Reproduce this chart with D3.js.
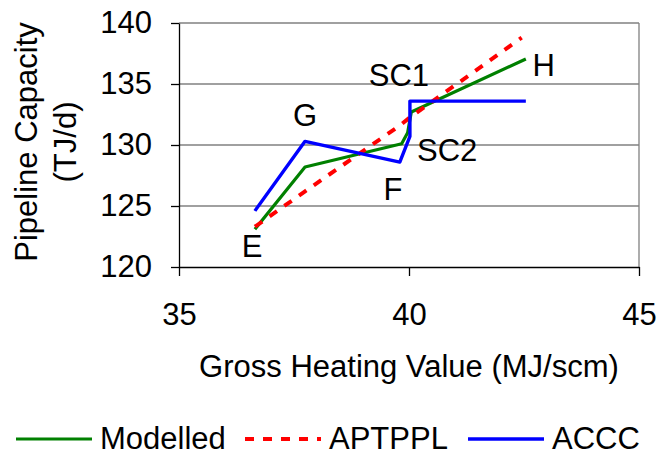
<!DOCTYPE html>
<html lang="en">
  <head>
    <meta charset="UTF-8" />
    <title>Pipeline capacity</title>
    <style>
      body { margin: 0; background: #fff; }
      text { font-family: "Liberation Sans", Arial, sans-serif; font-size: 31px; fill: #000; }
    </style>
  </head>
  <body>
    <div id="chart"></div>
    <script src="https://d3js.org/d3.v7.min.js"></script>
    <script>
      // values: [gross heating value, capacity]
      var modelled = [[36.65, 123.1], [37.74, 128.2], [39.84, 130.1], [39.97, 131.0], [40.05, 132.7], [42.54, 137.05]];
      var aptppl = [[36.65, 123.3], [37.74, 126.2], [39.8, 131.6], [40.0, 132.2], [42.45, 138.8]];
      var accc = [[36.65, 124.6], [37.74, 130.3], [39.8, 128.6], [40.02, 130.7], [40.02, 133.6], [42.54, 133.6]];

      var pointLabels = ["E", "G", "SC1", "SC2", "F", "H"];
      var labelPos = [[36.59, 120.84], [37.74, 131.58], [39.78, 134.86], [40.83, 128.71], [39.65, 125.52], [42.93, 135.68]];

      var xTicks = [35, 40, 45];
      var yTicks = [120, 125, 130, 135, 140];
      var seriesNames = ["Modelled", "APTPPL", "ACCC"];

      var margin = { top: 23, right: 22, bottom: 188, left: 179 },
        width = 661 - margin.left - margin.right,
        height = 455 - margin.top - margin.bottom;

      var root = d3.select("#chart").append("svg")
        .attr("width", 661)
        .attr("height", 455);
      var svg = root.append("g")
        .attr("transform", "translate(" + margin.left + "," + margin.top + ")");

      var x = d3.scaleLinear().domain([35, 45]).range([0, width]);
      var y = d3.scaleLinear().domain([120, 140]).range([height, 0]);

      // gridlines + top/right border
      svg.selectAll(".grid")
        .data(yTicks.slice(1))
        .enter().append("line")
        .attr("x1", 0).attr("x2", width)
        .attr("y1", d => y(d)).attr("y2", d => y(d))
        .attr("stroke", "#808080").attr("stroke-width", 1.3);
      svg.append("line")
        .attr("x1", width).attr("x2", width)
        .attr("y1", 0).attr("y2", height)
        .attr("stroke", "#808080").attr("stroke-width", 1.3);

      var yAxis = svg.append("g")
        .call(d3.axisLeft(y).tickValues(yTicks).tickSize(8).tickPadding(19).tickSizeOuter(0));
      var xAxis = svg.append("g")
        .attr("transform", "translate(0," + height + ")")
        .call(d3.axisBottom(x).tickValues(xTicks).tickSize(9).tickPadding(27).tickSizeOuter(0));
      [xAxis, yAxis].forEach(function (a) {
        a.selectAll("text").style("font-size", "31px").style("font-family", "'Liberation Sans', Arial, sans-serif");
        a.selectAll("line,path").attr("stroke", "#000").attr("stroke-width", 1.3);
      });

      var line = d3.line().x(d => x(d[0])).y(d => y(d[1]));
      var styles = [
        { data: modelled, color: "#008000", width: 3.2, dash: null },
        { data: aptppl, color: "#ff0000", width: 4, dash: "9,9" },
        { data: accc, color: "#0000ff", width: 3.4, dash: null }
      ];
      styles.forEach(function (s) {
        svg.append("path")
          .datum(s.data)
          .attr("d", line)
          .attr("fill", "none")
          .attr("stroke", s.color)
          .attr("stroke-width", s.width)
          .attr("stroke-dasharray", s.dash)
          .attr("stroke-linejoin", "round");
      });

      svg.selectAll(".pl")
        .data(pointLabels)
        .enter().append("text")
        .attr("x", (d, i) => x(labelPos[i][0]))
        .attr("y", (d, i) => y(labelPos[i][1]))
        .attr("text-anchor", "middle")
        .text(d => d);

      // axis titles
      root.append("text")
        .attr("x", margin.left + width / 2)
        .attr("y", 377)
        .attr("text-anchor", "middle")
        .text("Gross Heating Value (MJ/scm)");
      var yt = root.append("text")
        .attr("transform", "translate(37,142) rotate(-90)")
        .attr("text-anchor", "middle");
      yt.append("tspan").attr("x", 0).attr("y", 0).text("Pipeline Capacity");
      yt.append("tspan").attr("x", 0).attr("y", 39).text("(TJ/d)");

      // legend (pulled up a little so the text box stays inside the page)
      var legX = [16, 245, 468];
      var legend = root.selectAll(".leg")
        .data(seriesNames)
        .enter().append("g")
        .attr("transform", (d, i) => "translate(" + legX[i] + ",439)");
      legend.append("line")
        .attr("x1", 0).attr("x2", 76)
        .attr("stroke", (d, i) => styles[i].color)
        .attr("stroke-width", (d, i) => styles[i].width)
        .attr("stroke-dasharray", (d, i) => styles[i].dash);
      legend.append("text")
        .attr("x", 84).attr("y", 10)
        .text(d => d);
    </script>
  </body>
</html>
